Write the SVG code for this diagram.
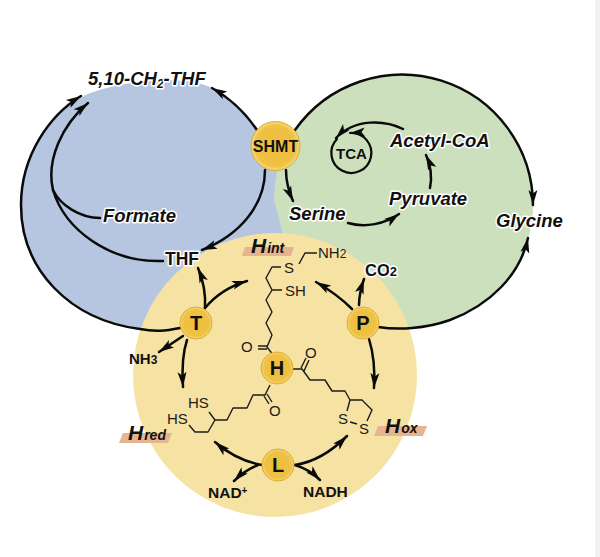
<svg xmlns="http://www.w3.org/2000/svg" width="600" height="557" viewBox="0 0 600 557">
<style>
.lab{font-family:"Liberation Sans",Arial,sans-serif;font-weight:700;fill:#111;paint-order:stroke;stroke:#fff;stroke-width:3;stroke-linejoin:round}
.it{font-style:italic}
.plain{font-family:"Liberation Sans",Arial,sans-serif;fill:#1c1c1c;font-size:15px}
.enz{font-family:"Liberation Sans",Arial,sans-serif;font-weight:700;fill:#111;text-anchor:middle}
.hn{font-family:"Liberation Sans",Arial,sans-serif;font-weight:700;font-style:italic;fill:#111;font-size:21px}
.band{fill:#e8b48f}
.arr{fill:none;stroke:#0a0a0a;stroke-width:2.5;stroke-linecap:round;marker-end:url(#ah)}
.ln{fill:none;stroke:#0a0a0a;stroke-width:2.5;stroke-linecap:round}
.chem{fill:none;stroke:#1c1c1c;stroke-width:1.4;stroke-linejoin:round}
.ball{fill:url(#gold);stroke:#d9a92f;stroke-width:1}
</style>
<defs>
<radialGradient id="gold" cx="0.5" cy="0.5" r="0.55">
<stop offset="0" stop-color="#eebd3c"/><stop offset="0.75" stop-color="#efc144"/><stop offset="0.92" stop-color="#f8dd85"/><stop offset="1" stop-color="#d7a630"/>
</radialGradient>
<marker id="ah" markerUnits="userSpaceOnUse" markerWidth="18" markerHeight="14" viewBox="0 0 18 14" refX="15" refY="7" orient="auto">
<path d="M0 2.500 L15 7 L0 11.500 L3.500 7 Z" fill="#0a0a0a"/>
</marker>
</defs>
<rect width="600" height="557" fill="#fff"/>
<rect x="595" y="0" width="5" height="557" fill="#f1f1f1"/>
<g id="regions">
<path fill="#b6c5e0" d="M21 205 C21 155 50 115 82 97 C105 84 180 72 212 88 C235 100 250 115 257 130 L285 160 L300 260 L200 330 C185 331 160 333 140 329 C70 320 21 270 21 205 Z"/>
<path fill="#cde0bd" d="M295 130 A131 131 0 0 1 533 205 C533 215 532 228 528 238 C520 275 490 305 450 320 C425 329 398 330 378 327 L300 300 L274 200 C274 175 281 148 295 130 Z"/>
<circle cx="275" cy="375" r="142" fill="#f6e2a2"/>
</g>
<g id="connectors">
<path class="arr" d="M257 130 C244 111 228 97 212 88"/>
<path class="arr" d="M265 170 C265 205 240 235 202 250"/>
<path class="arr" d="M180 328 C165 331 155 332 140 329 C70 320 21 270 21 205 C21 155 50 115 81 96"/>
<path class="arr" d="M163 261 C110 263 65 230 53 190 C46 160 62 125 88 103"/>
<path class="ln" d="M100 218 C80 218 60 205 53 190"/>
<path class="arr" d="M295 130 A131 131 0 0 1 533 205"/>
<path class="arr" d="M286 170 C286 182 289 192 293 201"/>
<path class="arr" d="M348 223 C365 228 385 224 399 214"/>
<path class="arr" d="M430 188 C432 178 431 166 426 155"/>
<path class="arr" d="M403 129 C385 120 355 118 336 138"/>
<path class="arr" style="stroke-width:2.2" d="M337 139 A20 20 0 1 0 350 133"/>
<path class="arr" d="M378 327 C398 330 425 329 450 320 C490 305 520 275 528 238"/>
<path class="arr" d="M205 308 C206 292 203 280 198 268"/>
<path class="arr" d="M205 308 C215 296 230 286 247 281"/>
<path class="arr" d="M183 336 L159 352"/>
<path class="arr" d="M187 340 C182 355 182 372 183 387"/>
<path class="arr" d="M352 309 C342 299 330 290 316 282"/>
<path class="arr" d="M359 305 C359 296 361 288 364 279"/>
<path class="arr" d="M369 339 C374 355 375 372 374 388"/>
<path class="arr" d="M262 465 C245 462 230 455 215 442"/>
<path class="arr" d="M258 465 C250 468 242 473 234 481"/>
<path class="arr" d="M295 465 C315 462 333 450 347 436"/>
<path class="arr" d="M295 465 C305 468 313 473 320 480"/>
</g>
<g id="hint">
<polygon class="band" points="245,247 294,247 291,256 242,256"/>
<text class="hn" x="251" y="253">H<tspan font-size="14" dx="1">int</tspan></text>
<path class="chem" d="M281 267 H272 L266 278 L272 290 H282 M272 290 L266 300 L272 312 L266 323 L272 335 L267 347 L277 360 M267 346 H258 M267 349 H258 M299 264 L305 253 H317"/>
<text class="plain" x="284" y="273">S</text>
<text class="plain" x="285" y="296">SH</text>
<text class="plain" x="318" y="258">NH<tspan font-size="12">2</tspan></text>
<text class="plain" x="241" y="352">O</text>
</g>
<g id="hox">
<polygon class="band" points="378,426 427,426 423,436 374,436"/>
<text class="hn" x="385" y="433">H<tspan font-size="14" dx="1">ox</tspan></text>
<path class="chem" d="M293 369 H302 L310 380 H325 L332 391 H345 L350 400 H362 L372 410 L367 421 M350 400 L347 411 M350 422 L357 424 M301 368 L306 358 M304 371 L309 360"/>
<text class="plain" x="338" y="424">S</text>
<text class="plain" x="359" y="434">S</text>
<text class="plain" x="305" y="358">O</text>
</g>
<g id="hred">
<polygon class="band" points="123,433 172,433 168,443 119,443"/>
<text class="hn" x="128" y="440">H<tspan font-size="14" dx="1">red</tspan></text>
<path class="chem" d="M189 425 L195 432 H208 L215 420 L209 412 M215 420 H227 L233 408 H247 L253 395 H265 L270 385 M264 396 L269 404 M267 394 L272 402"/>
<text class="plain" x="188" y="408">HS</text>
<text class="plain" x="167" y="424">HS</text>
<text class="plain" x="269" y="416">O</text>
</g>
<g id="n-510"><text class="lab it" x="88" y="85" font-size="18.500">5,10-CH<tspan font-size="12" dy="3">2</tspan><tspan dy="-3">-THF</tspan></text></g>
<g id="n-formate"><text class="lab it" x="103" y="222" font-size="18.500">Formate</text></g>
<g id="n-thf"><text class="lab" x="165" y="265" font-size="17.500">THF</text></g>
<g id="n-serine"><text class="lab it" x="289" y="220" font-size="18.500">Serine</text></g>
<g id="n-pyruvate"><text class="lab it" x="389" y="205" font-size="18.500">Pyruvate</text></g>
<g id="n-acetyl"><text class="lab it" x="390" y="147" font-size="18.500">Acetyl-CoA</text></g>
<g id="n-glycine"><text class="lab it" x="496" y="227" font-size="18.500">Glycine</text></g>
<g id="n-tca"><text class="enz" x="351.500" y="159" font-size="15">TCA</text></g>
<g id="n-co2"><text class="lab" x="365" y="276" font-size="16.500">CO<tspan font-size="13">2</tspan></text></g>
<g id="n-nh3"><text class="lab" x="129" y="364" font-size="15" style="stroke:none">NH<tspan font-size="12">3</tspan></text></g>
<g id="n-nad"><text class="lab" x="208" y="498" font-size="15.500" style="stroke:none">NAD<tspan font-size="10" dy="-4">+</tspan></text></g>
<g id="n-nadh"><text class="lab" x="303" y="497" font-size="15.500" style="stroke:none">NADH</text></g>
<g id="n-shmt"><circle class="ball" cx="275.500" cy="146" r="24.500"/><text class="enz" x="275.500" y="152" font-size="16">SHMT</text></g>
<g id="n-t"><circle class="ball" cx="196" cy="323" r="16"/><text class="enz" x="196" y="330" font-size="20">T</text></g>
<g id="n-p"><circle class="ball" cx="363" cy="323" r="16"/><text class="enz" x="363" y="330" font-size="20">P</text></g>
<g id="n-h"><circle class="ball" cx="277" cy="368" r="16"/><text class="enz" x="277" y="375" font-size="20">H</text></g>
<g id="n-l"><circle class="ball" cx="278" cy="465" r="16"/><text class="enz" x="278" y="472" font-size="20">L</text></g>
</svg>
